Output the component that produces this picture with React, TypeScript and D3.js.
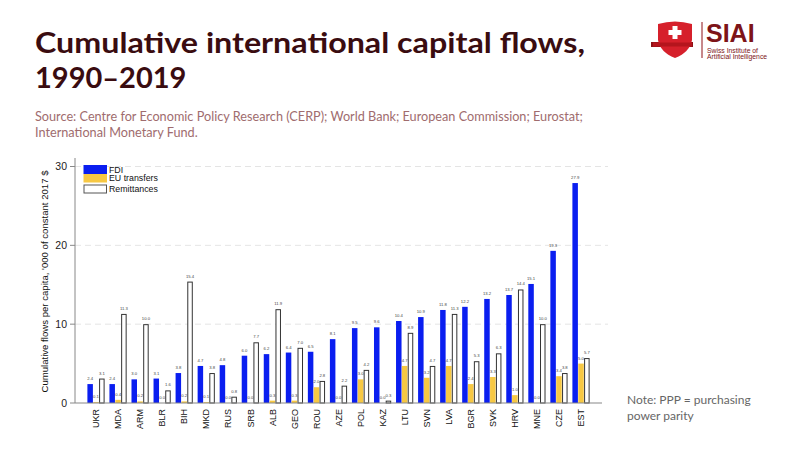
import React from 'react';
import * as d3 from 'd3';

const countries = ['UKR', 'MDA', 'ARM', 'BLR', 'BIH', 'MKD', 'RUS', 'SRB', 'ALB', 'GEO', 'ROU', 'AZE',
  'POL', 'KAZ', 'LTU', 'SVN', 'LVA', 'BGR', 'SVK', 'HRV', 'MNE', 'CZE', 'EST'];
const fdi = [2.4, 2.4, 3.0, 3.1, 3.8, 4.7, 4.8, 6.0, 6.2, 6.4, 6.5, 8.1, 9.5, 9.6, 10.4, 10.9, 11.8, 12.2, 13.2, 13.7, 15.1, 19.3, 27.9];
const euTransfers = [0.1, 0.4, 0.2, 0.0, 0.2, 0.1, 0.0, 0.0, 0.3, 0.3, 2.0, 0.0, 3.0, 0.0, 4.7, 3.2, 4.7, 2.4, 3.3, 1.0, 0.0, 3.4, 5.0];
const remittances = [3.1, 11.3, 10.0, 1.6, 15.4, 3.8, 0.8, 7.7, 11.9, 7.0, 2.8, 2.2, 4.2, 0.3, 8.9, 4.7, 11.3, 5.3, 6.3, 14.4, 10.0, 3.8, 5.7];
const yTicks = [0, 10, 20, 30];

const seriesNames = ['FDI', 'EU transfers', 'Remittances'];
const seriesValues = [fdi, euTransfers, remittances];
const fills = ['#0a1ef0', '#f7c843', '#ffffff'];

const chartFont = '"Liberation Sans", Arial, sans-serif';
const textFont = 'Lato, "Open Sans", sans-serif';

export default function App() {
  const axisX = 75;
  const axisRight = 602;
  const y = d3.scaleLinear().domain([0, 30]).range([403, 166.5]);
  const x = d3.scalePoint<string>().domain(countries).range([96, 581]);
  const sub = d3.scaleBand<string>().domain(seriesNames).range([-8.6, 8.6]).paddingInner(0.06);
  const bw = sub.bandwidth();

  return (
    <svg width={800} height={450} style={{ position: 'absolute', left: 0, top: 0, background: '#fff' }}>
      {/* title + source */}
      <text x={35} y={53} fontFamily={textFont} fontWeight={700} fontSize={29} fill="#3a0c10"
        textLength={550} lengthAdjust="spacingAndGlyphs">
        Cumulative international capital flows,
      </text>
      <text x={35} y={88} fontFamily={textFont} fontWeight={700} fontSize={29} fill="#3a0c10">
        1990–2019
      </text>
      <text x={35} y={121} fontFamily={textFont} fontSize={12.7} fill="#a06c6e">
        Source: Centre for Economic Policy Research (CERP); World Bank; European Commission; Eurostat;
      </text>
      <text x={35} y={137} fontFamily={textFont} fontSize={12.7} fill="#a06c6e">
        International Monetary Fund.
      </text>

      {/* logo */}
      <g>
        <path d="M651,42 L693,42 L693,47 L651,47 Z" fill="#8e1116" />
        <path d="M658,24 Q675,19 692,24 L692,40 Q690,52 675,58 Q660,52 658,40 Z" fill="#d6202b" />
        <rect x={672.5} y={26} width={5} height={13} fill="#fff" />
        <rect x={668.5} y={30} width={13} height={5} fill="#fff" />
        <rect x={653} y={42.5} width={39} height={4} fill="#b5151d" />
        <line x1={702} x2={702} y1={22} y2={58} stroke="#8e1116" strokeWidth={1} />
        <text x={706} y={41.5} fontFamily={chartFont} fontWeight={700} fontSize={25} fill="#7d1418">SIAI</text>
        <text x={707} y={52.5} fontFamily={chartFont} fontSize={6.8} fill="#7d1418">Swiss Institute of</text>
        <text x={707} y={59} fontFamily={chartFont} fontSize={6.8} fill="#7d1418">Artificial Intelligence</text>
      </g>

      {/* gridlines */}
      {yTicks.filter(t => t > 0).map(t => (
        <line key={t} x1={axisX} x2={axisRight + 6} y1={y(t)} y2={y(t)} stroke="#dddddd" strokeWidth={0.8} strokeDasharray="6,4" />
      ))}

      {/* y axis */}
      <line x1={axisX} x2={axisX} y1={158} y2={y(0)} stroke="#888" strokeWidth={1} />
      {yTicks.map(t => (
        <g key={t}>
          <line x1={axisX - 5} x2={axisX} y1={y(t)} y2={y(t)} stroke="#888" strokeWidth={1} />
          <text x={axisX - 8} y={y(t)} dy="0.35em" textAnchor="end" fontFamily={chartFont} fontSize={10.5} fill="#222">{t}</text>
        </g>
      ))}
      <text transform={`translate(48,${(y(0) + 160) / 2}) rotate(-90)`} textAnchor="middle"
        fontFamily={chartFont} fontSize={9.6} fill="#111">
        Cumulative flows per capita, '000 of constant 2017 $
      </text>

      {/* bars */}
      {countries.map((c, i) => (
        <g key={c} transform={`translate(${x(c)},0)`}>
          {seriesNames.map((s, k) => {
            const v = seriesValues[k][i];
            const bx = sub(s)!;
            const top = y(v);
            return (
              <g key={s}>
                <rect x={bx + (k === 2 ? 0.5 : 0)} y={k === 2 ? top + 0.5 : top} width={k === 2 ? bw - 1 : bw}
                  height={Math.max(0, y(0) - top - (k === 2 ? 0.5 : 0))}
                  fill={fills[k]} stroke={k === 2 ? '#333' : 'none'} strokeWidth={1} />
                <text x={bx + bw / 2} y={top - 4} textAnchor="middle" fontFamily={chartFont} fontSize={4.2} fill="#444">
                  {v.toFixed(1)}
                </text>
              </g>
            );
          })}
          <text transform={`translate(3.2,${y(0) + 6}) rotate(-90)`} textAnchor="end"
            fontFamily={chartFont} fontSize={9} fill="#111">{c}</text>
        </g>
      ))}

      {/* x axis */}
      <line x1={axisX} x2={axisRight} y1={y(0)} y2={y(0)} stroke="#888" strokeWidth={1.2} />

      {/* legend */}
      {seriesNames.map((s, k) => {
        const ly = [165, 174, 185][k];
        const lh = [9, 8.5, 8][k];
        return (
          <g key={s}>
            <rect x={k === 2 ? 84 : 83.5} y={ly} width={k === 2 ? 22.5 : 23.5} height={lh}
              fill={fills[k]} stroke={k === 2 ? '#555' : 'none'} strokeWidth={1} />
            <text x={109} y={ly + lh / 2} dy="0.35em" fontFamily={chartFont} fontSize={8.8} fill="#111">{s}</text>
          </g>
        );
      })}

      {/* note */}
      <text x={627} y={404} fontFamily={textFont} fontSize={12} fill="#666">Note: PPP = purchasing</text>
      <text x={627} y={420} fontFamily={textFont} fontSize={12} fill="#666">power parity</text>
    </svg>
  );
}
